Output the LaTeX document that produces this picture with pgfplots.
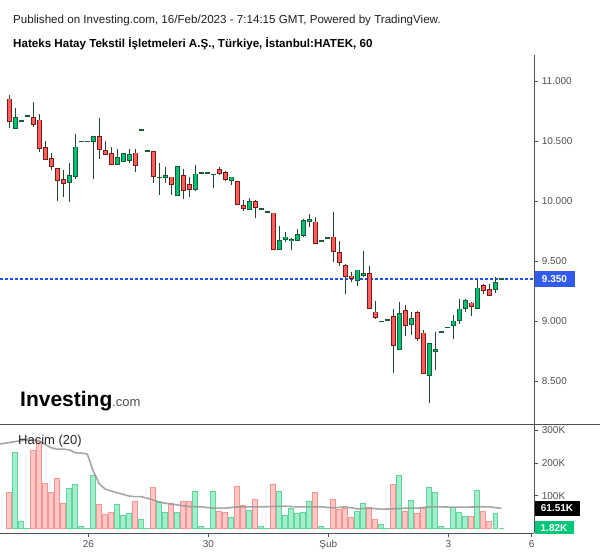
\documentclass[border=0pt]{standalone}
\usepackage{pgfplots}
\pgfplotsset{compat=1.18}
\usepackage{pgfplotstable}
\usepackage{fontspec}
\setmainfont{Liberation Sans}

\definecolor{upfill}{RGB}{0,192,115}
\definecolor{upline}{RGB}{25,90,55}
\definecolor{dnfill}{RGB}{255,95,88}
\definecolor{dnline}{RGB}{120,25,25}
\definecolor{wickc}{RGB}{30,72,45}
\definecolor{vgfill}{RGB}{165,238,205}
\definecolor{vgline}{RGB}{95,215,155}
\definecolor{vrfill}{RGB}{255,200,198}
\definecolor{vrline}{RGB}{250,150,145}
\definecolor{axgray}{RGB}{80,80,80}
\definecolor{lblgray}{RGB}{80,80,80}
\definecolor{pblue}{RGB}{50,90,235}
\definecolor{plineblue}{RGB}{30,80,255}
\definecolor{magray}{RGB}{150,150,150}
\definecolor{boxgreen}{RGB}{0,200,120}

\pgfdeclareplotmark{nothing}{}

\pgfplotstableread{
i o h l c
1 10.611 10.775 10.611 10.689
2 10.664 10.664 10.664 10.664
3 10.706 10.706 10.706 10.706
10 10.156 10.317 9.994 10.206
11 10.206 10.558 10.181 10.447
12 10.497 10.497 10.497 10.497
13 10.497 10.497 10.497 10.497
14 10.497 10.542 10.181 10.531
18 10.306 10.433 10.306 10.356
19 10.331 10.400 10.331 10.389
20 10.344 10.433 10.314 10.383
22 10.589 10.589 10.589 10.589
23 10.414 10.414 10.414 10.414
25 10.197 10.317 10.053 10.197
26 10.197 10.283 10.153 10.206
28 10.047 10.281 10.047 10.281
31 10.097 10.297 10.081 10.222
32 10.231 10.231 10.231 10.231
33 10.231 10.231 10.231 10.231
34 10.222 10.222 10.111 10.222
37 10.172 10.197 10.131 10.197
40 9.930 10.022 9.925 9.989
42 9.931 9.931 9.931 9.931
43 9.906 9.906 9.906 9.906
45 9.597 9.789 9.589 9.664
46 9.681 9.739 9.656 9.697
47 9.672 9.689 9.589 9.675
48 9.672 9.764 9.672 9.714
49 9.714 9.847 9.703 9.831
50 9.836 9.889 9.781 9.839
52 9.664 9.664 9.664 9.664
53 9.689 9.689 9.689 9.689
58 9.339 9.422 9.289 9.422
59 9.386 9.583 9.364 9.389
62 8.997 8.997 8.997 8.997
63 9.006 9.006 9.006 9.006
65 8.764 9.156 8.756 9.056
67 8.972 9.072 8.881 9.014
70 8.547 8.806 8.314 8.806
71 8.753 8.906 8.594 8.756
72 8.906 8.906 8.906 8.906
73 8.947 8.947 8.947 8.947
74 8.964 9.047 8.847 8.997
75 9.006 9.181 8.972 9.097
76 9.106 9.181 9.072 9.164
78 9.111 9.339 9.103 9.272
81 9.264 9.364 9.231 9.314
82 9.350 9.350 9.350 9.350
}\upc

\pgfplotstableread{
i o h l c
0 10.847 10.883 10.611 10.664
4 10.689 10.825 10.619 10.639
5 10.672 10.725 10.411 10.439
6 10.439 10.500 10.348 10.348
7 10.348 10.400 10.256 10.289
8 10.264 10.264 10.003 10.173
9 10.173 10.258 10.031 10.148
15 10.531 10.692 10.353 10.431
16 10.414 10.500 10.389 10.389
17 10.389 10.450 10.306 10.306
21 10.397 10.433 10.244 10.297
24 10.406 10.406 10.153 10.206
27 10.197 10.197 10.053 10.139
29 10.206 10.264 10.014 10.089
30 10.131 10.197 10.036 10.097
35 10.256 10.281 10.214 10.231
36 10.231 10.247 10.164 10.181
38 10.156 10.156 9.972 9.972
39 9.956 10.006 9.914 9.939
41 9.989 10.006 9.856 9.947
44 9.897 9.897 9.597 9.597
51 9.822 9.864 9.639 9.647
54 9.697 9.906 9.489 9.581
55 9.564 9.664 9.461 9.489
56 9.456 9.472 9.228 9.372
57 9.372 9.406 9.322 9.356
60 9.389 9.456 9.106 9.106
61 9.072 9.164 9.014 9.031
64 9.031 9.100 8.569 8.797
66 9.081 9.131 8.872 8.964
68 9.064 9.081 8.831 8.856
69 8.897 8.922 8.564 8.564
77 9.147 9.156 9.039 9.122
79 9.289 9.306 9.222 9.256
80 9.256 9.306 9.214 9.214
}\dnc

\pgfplotstableread{
i v
1 231
2 23
3 1
10 122
11 134
12 6
13 1
14 162
18 75
19 40
20 45
22 29
23 1
25 81
26 48
28 48
31 112
32 6
33 1
34 112
37 33
40 54
42 8
43 1
45 112
46 39
47 60
48 45
49 48
50 84
52 6
53 1
58 51
59 78
62 14
63 1
65 161
67 87
70 127
71 109
72 6
73 1
74 65
75 50
76 38
78 117
81 47
82 1.82
}\vup

\pgfplotstableread{
i v
0 110
4 238
5 266
6 139
7 109
8 152
9 78
15 75
16 43
17 48
21 84
24 125
27 78
29 84
30 84
35 51
36 48
38 130
39 72
41 90
44 136
51 109
54 90
55 57
56 63
57 33
60 66
61 29
64 134
66 51
68 45
69 60
77 38
79 53
80 22
}\vdn

\pgfplotsset{
  ebar/.style 2 args={only marks, mark=nothing,
    error bars/y dir=plus, error bars/y explicit, error bars/error mark=none,
    error bars/error bar style={draw=#1, line width=#2, line cap=butt}},
  myaxis/.style={
    scale only axis, width=534.3pt,
    xmin=-1.55, xmax=87.5,
    axis line style={-, axgray, line width=1pt},
    every tick/.style={axgray, line width=0.8pt},
    tick align=outside, major tick length=4pt,
    ticklabel style={font=\fontsize{10}{12}\selectfont, text=lblgray},
    clip=false,
  },
}

\begin{document}
\begin{tikzpicture}[x=1pt,y=1pt]
\useasboundingbox (0,0) rectangle (600,-558);

\node[anchor=base west, inner sep=0pt, font=\fontsize{11.6}{14}\selectfont, text={rgb,255:red,30;green,30;blue,30}] at (13,-23.5) {Published on Investing.com, 16/Feb/2023 - 7:14:15 GMT, Powered by TradingView.};
\node[anchor=base west, inner sep=0pt, font=\fontsize{11.6}{14}\selectfont\bfseries, text=black] at (13,-47) {Hateks Hatay Tekstil İşletmeleri A.Ş., Türkiye, İstanbul:HATEK, 60};

\begin{axis}[myaxis,
  at={(0pt,-424pt)}, anchor=south west, height=369pt,
  ymin=8.142, ymax=11.217,
  hide x axis, axis y line*=right,
  ytick={8.5,9,9.5,10,10.5,11},
  yticklabels={8.500,9.000,9.500,10.000,10.500,11.000},
]
\addplot[draw=plineblue, line width=1.3pt, dash pattern=on 3pt off 2pt, mark=nothing] coordinates {(-1.55,9.35) (87.5,9.35)};
% wicks
\addplot[ebar={wickc}{1pt}] table[x=i, y=l, y error expr={\thisrow{h}-\thisrow{l}}]{\dnc};
\addplot[ebar={wickc}{1pt}] table[x=i, y=l, y error expr={\thisrow{h}-\thisrow{l}}]{\upc};
% bodies: outline then fill
\addplot[ebar={dnline}{5pt}] table[x=i, y expr={min(\thisrow{o},\thisrow{c})-0.0075}, y error expr={abs(\thisrow{c}-\thisrow{o})+0.015}]{\dnc};
\addplot[ebar={dnfill}{3.2pt}] table[x=i, y expr={min(\thisrow{o},\thisrow{c})}, y error expr={abs(\thisrow{c}-\thisrow{o})}]{\dnc};
\addplot[ebar={upline}{5pt}] table[x=i, y expr={min(\thisrow{o},\thisrow{c})-0.0075}, y error expr={abs(\thisrow{c}-\thisrow{o})+0.015}]{\upc};
\addplot[ebar={upfill}{3.2pt}] table[x=i, y expr={min(\thisrow{o},\thisrow{c})}, y error expr={abs(\thisrow{c}-\thisrow{o})}]{\upc};
\node[fill=pblue, text=white, font=\fontsize{10}{12}\selectfont\bfseries, anchor=west, minimum width=40pt, minimum height=16pt, inner sep=0pt] at (axis cs:87.5,9.35) {9.350};
\end{axis}

\begin{axis}[myaxis,
  at={(0pt,-533pt)}, anchor=south west, height=109pt,
  ymin=-13.7, ymax=318.6,
  axis x line*=bottom, axis y line*=right,
  xtick={13.17,33.17,53.17,73.17,87.07},
  xticklabels={26,30,Şub,3,6},
  ytick={100,200,300},
  yticklabels={100K,200K,300K},
]
\addplot[ybar, bar width=0.82, bar shift=0pt, fill=vrfill, draw=vrline, line width=0.7pt] table[x=i,y=v]{\vdn};
\addplot[ybar, bar width=0.82, bar shift=0pt, fill=vgfill, draw=vgline, line width=0.7pt] table[x=i,y=v]{\vup};
\addplot[magray, line width=1.6pt, opacity=0.85, mark=nothing] coordinates {
(-1.55,258) (0,262) (1,265) (2,268) (3,270) (4,270) (5,268) (6,256) (7,246) (8,242) (9,242) (10,240) (11,231) (12,230) (13,227) (14,175) (15,136) (16,120) (17,114) (18,109) (19,104) (20,99) (21,97) (22,97) (23,92) (24,87) (25,81) (26,77) (28,72) (30,67) (32,66) (34,62) (36,62) (38,66) (40,66) (42,66) (44,67) (46,68) (48,66) (50,66) (52,66) (54,63) (56,66) (58,60) (60,62) (62,59) (64,60) (66,62) (68,62) (70,66) (72,66) (74,65) (76,65) (78,66) (80,66) (82,61.5)
};
\node[fill=black, text=white, font=\fontsize{10}{12}\selectfont\bfseries, anchor=west, minimum width=45pt, minimum height=15pt, inner sep=0pt] at (axis cs:87.5,61.51) {61.51K};
\node[fill=boxgreen, text=white, font=\fontsize{10}{12}\selectfont\bfseries, anchor=west, minimum width=39pt, minimum height=13pt, inner sep=0pt] at (axis cs:87.5,1.82) {1.82K};
\end{axis}

\draw[axgray, line width=1pt] (0,-424) -- (600,-424);

\node[anchor=base west, inner sep=0pt, font=\fontsize{13}{15}\selectfont, text={rgb,255:red,40;green,40;blue,40}] at (18,-444) {Hacim (20)};
\node[anchor=base west, inner sep=0pt] at (20,-406) {\fontsize{21}{24}\selectfont\bfseries Investing{\fontsize{13}{15}\selectfont\mdseries\color{axgray}.com}};
\end{tikzpicture}
\end{document}
